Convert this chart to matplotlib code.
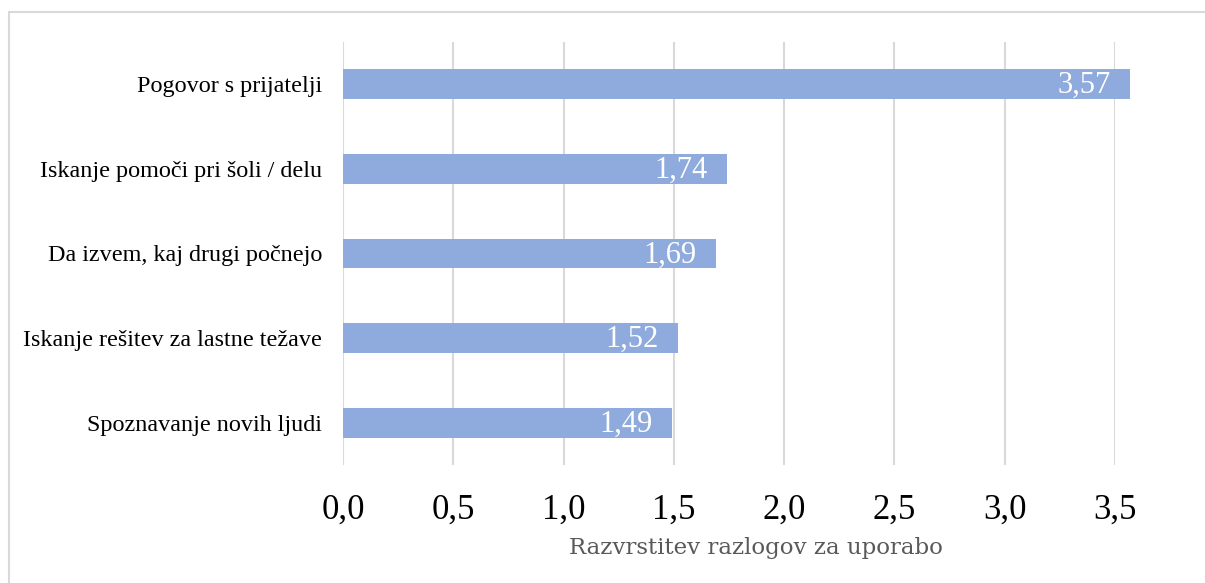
import matplotlib
matplotlib.use("Agg")
import matplotlib.pyplot as plt
from matplotlib.patches import Rectangle

categories = [
    "Pogovor s prijatelji",
    "Iskanje pomoči pri šoli / delu",
    "Da izvem, kaj drugi počnejo",
    "Iskanje rešitev za lastne težave",
    "Spoznavanje novih ljudi",
]
values = [3.57, 1.74, 1.69, 1.52, 1.49]
xticks = [0.0, 0.5, 1.0, 1.5, 2.0, 2.5, 3.0, 3.5]
xlabel = "Razvrstitev razlogov za uporabo"

bar_color = "#8FAADC"
grid_color = "#D9D9D9"

fig = plt.figure(figsize=(12.05, 5.83), dpi=100)
ax = fig.add_axes([343 / 1205, 1 - 465 / 583, (1115 - 343) / 1205, (465 - 42) / 583])

# outer chart frame
fig.patches.append(Rectangle((9 / 1205, -0.05), 1.2, 1 - 12 / 583 + 0.05,
                             transform=fig.transFigure, fill=False,
                             edgecolor="#D9D9D9", linewidth=1.5))

pos = list(range(len(categories)))[::-1]
bars = ax.barh(pos, values, height=0.35, color=bar_color, zorder=3, clip_on=False)

for y, v in zip(pos, values):
    ax.annotate(f"{v:.2f}".replace(".", ","), xy=(v, y), xytext=(-14, -1),
                textcoords="offset points", ha="right", va="center",
                color="white", fontsize=22, family="Liberation Serif", zorder=4,
                annotation_clip=False)

ax.set_xlim(0, 3.5)
ax.set_ylim(-0.5, len(categories) - 0.5)
ax.set_xticks(xticks)
ax.set_xticklabels([f"{t:.1f}".replace(".", ",") for t in xticks],
                   family="Liberation Serif", fontsize=25)
ax.set_yticks(pos)
ax.set_yticklabels(categories, family="Liberation Serif", fontsize=17.4)
ax.tick_params(axis="x", length=0, pad=21)
ax.tick_params(axis="y", length=0, pad=15)

ax.grid(axis="x", color=grid_color, linewidth=1.5, zorder=0)
ax.set_axisbelow(True)
for s in ax.spines.values():
    s.set_visible(False)

fig.text(756 / 1205, 1 - 548 / 583, xlabel, family="DejaVu Serif", fontsize=16.5,
         color="#595959", ha="center", va="center")

fig.savefig("out.png", dpi=100)
